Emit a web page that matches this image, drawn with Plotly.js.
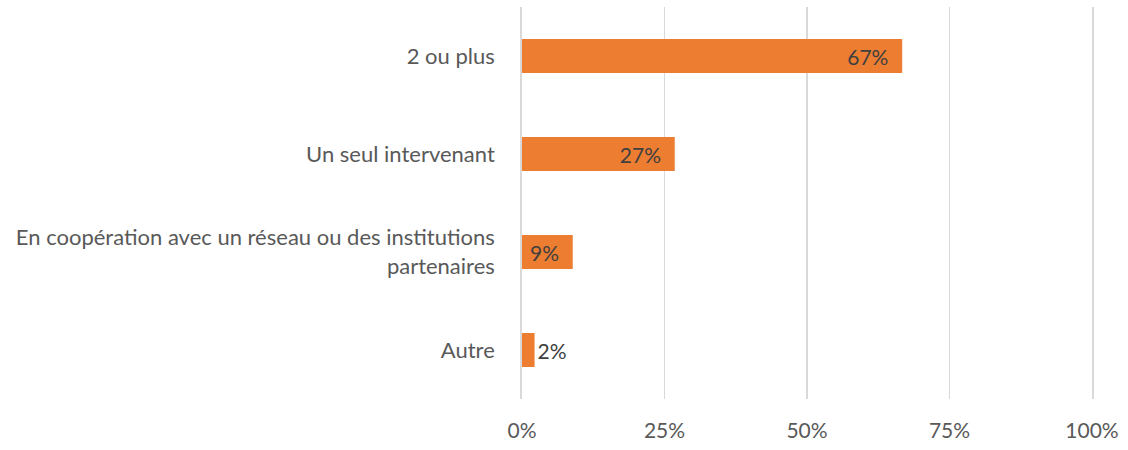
<!DOCTYPE html>
<html>
<head>
<meta charset="utf-8">
<script src="https://cdn.plot.ly/plotly-3.0.1.min.js"></script>
<style>html,body{margin:0;padding:0;background:#fff;}#chart{width:1128px;height:450px;}</style>
</head>
<body>
<div id="chart"></div>
<script>
var categories = ["2 ou plus", "Un seul intervenant", "En coopération avec un réseau ou des institutions<br>partenaires", "Autre"];
var values = [0.667, 0.268, 0.089, 0.022];
var labels = ["67%", "27%", "9%", "2%"];
var xTickVals = [0, 0.25, 0.5, 0.75, 1];
var xTickText = ["0%", "25%", "50%", "75%", "100%"];

var font = "Lato, 'Open Sans', sans-serif";
var trace = {
  type: "bar",
  orientation: "h",
  y: categories,
  x: values,
  text: labels.map(function(t){ return t + "\u00a0\u00a0"; }),
  textposition: ["inside", "inside", "inside", "outside"],
  insidetextanchor: "end",
  constraintext: "none",
  cliponaxis: false,
  textfont: {family: font, size: 21, color: "#404040"},
  insidetextfont: {family: font, size: 21, color: "#404040"},
  outsidetextfont: {family: font, size: 21, color: "#404040"},
  marker: {color: "#ED7D31", line: {width: 0}},
  hoverinfo: "none"
};
var layout = {
  width: 1128, height: 450,
  margin: {l: 522, r: 36, t: 7, b: 51},
  paper_bgcolor: "#fff", plot_bgcolor: "#fff",
  showlegend: false,
  bargap: 0.653,
  font: {family: font, size: 21, color: "#595959"},
  xaxis: {
    range: [0, 1],
    tickvals: xTickVals, ticktext: xTickText,
    showgrid: true, gridcolor: "#d9d9d9", gridwidth: 1.8,
    zeroline: false, showline: false, ticks: "",
    ticklabelstandoff: 17,
    tickfont: {family: font, size: 21, color: "#595959"}
  },
  yaxis: {
    autorange: "reversed",
    showgrid: false, zeroline: false,
    showline: true, mirror: true, linecolor: "#d9d9d9", linewidth: 1.8,
    ticks: "",
    ticklabelstandoff: 21,
    tickfont: {family: font, size: 22, color: "#595959"}
  }
};
Plotly.newPlot("chart", [trace], layout, {staticPlot: true, displayModeBar: false});
</script>
</body>
</html>
